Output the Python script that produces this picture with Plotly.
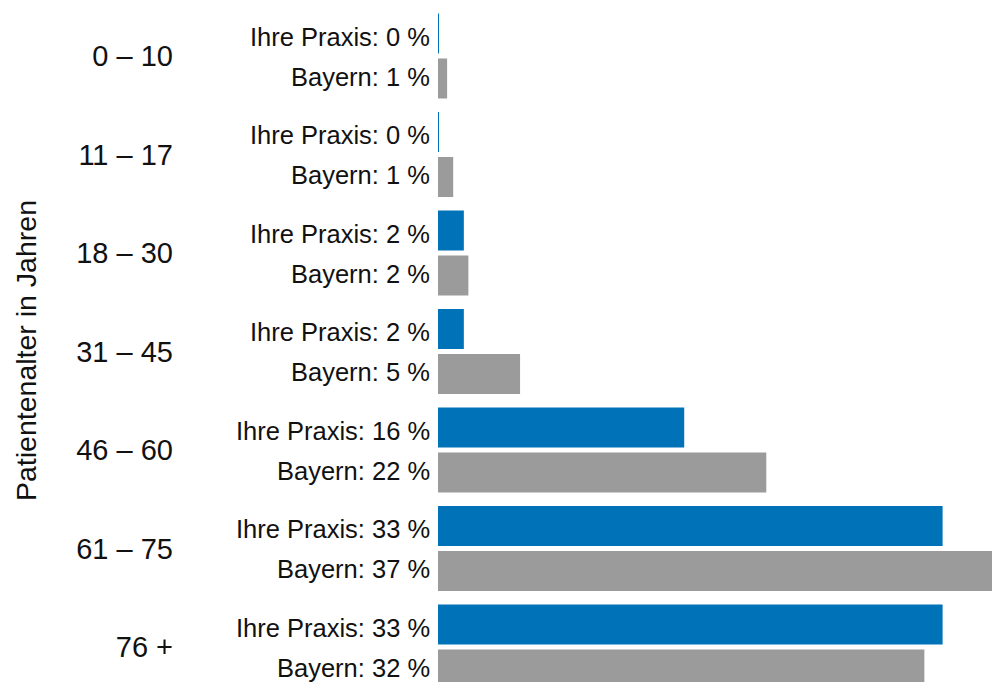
import plotly.graph_objects as go

categories = ["0 – 10", "11 – 17", "18 – 30", "31 – 45", "46 – 60", "61 – 75", "76 +"]
praxis_values = [0.06, 0.06, 1.7, 1.7, 16.2, 33.2, 33.2]
bayern_values = [0.6, 1.0, 2.0, 5.4, 21.6, 37.0, 32.0]
praxis_labels = [0, 0, 2, 2, 16, 33, 33]
bayern_labels = [1, 1, 2, 5, 22, 37, 32]
praxis_name = "Ihre Praxis"
bayern_name = "Bayern"
axis_title = "Patientenalter in Jahren"

BLUE = "#0072b8"
GRAY = "#9b9b9b"
FONT = "Liberation Sans, Arial, sans-serif"

idx = list(range(len(categories)))
bar_w = 0.406
gap = 0.0254

fig = go.Figure()
fig.add_trace(go.Bar(
    y=idx, x=praxis_values, orientation="h", name=praxis_name,
    marker=dict(color=BLUE, line=dict(width=0)),
    width=bar_w, offset=-(gap + bar_w), hoverinfo="skip",
))
fig.add_trace(go.Bar(
    y=idx, x=bayern_values, orientation="h", name=bayern_name,
    marker=dict(color=GRAY, line=dict(width=0)),
    width=bar_w, offset=gap, hoverinfo="skip",
))

annotations = []
for i in idx:
    annotations.append(dict(
        x=0, y=i - (gap + bar_w / 2), xref="x", yref="y",
        text=f"{praxis_name}: {praxis_labels[i]} %", showarrow=False,
        xanchor="right", yanchor="middle", xshift=-6, yshift=-3,
        font=dict(family=FONT, size=25.5, color="#111111"),
    ))
    annotations.append(dict(
        x=0, y=i + (gap + bar_w / 2), xref="x", yref="y",
        text=f"{bayern_name}: {bayern_labels[i]} %", showarrow=False,
        xanchor="right", yanchor="middle", xshift=-6, yshift=2,
        font=dict(family=FONT, size=25.5, color="#111111"),
    ))

# y-axis title
annotations.append(dict(
    x=0, y=0.4853, xref="paper", yref="paper", text=axis_title, showarrow=False,
    textangle=-90, xanchor="center", yanchor="middle", xshift=-412,
    font=dict(family=FONT, size=28.5, color="#111111"),
))

fig.update_layout(
    width=992, height=682,
    margin=dict(l=438, r=0, t=0, b=0, pad=0),
    paper_bgcolor="white", plot_bgcolor="white",
    showlegend=False, barmode="overlay",
    font=dict(family=FONT, color="#111111"),
    annotations=annotations,
    xaxis=dict(range=[0, 36.45], visible=False, fixedrange=True),
    yaxis=dict(
        range=[6.355, -0.5685], tickmode="array", tickvals=idx, ticktext=categories,
        tickfont=dict(family=FONT, size=29, color="#111111"),
        ticklabelstandoff=264, showgrid=False, zeroline=False, showline=False,
        ticks="", fixedrange=True,
    ),
)

fig.write_html(
    "out.html",
    config={"displayModeBar": False},
    post_script="document.body.style.margin='0';document.body.style.overflow='hidden';",
)
